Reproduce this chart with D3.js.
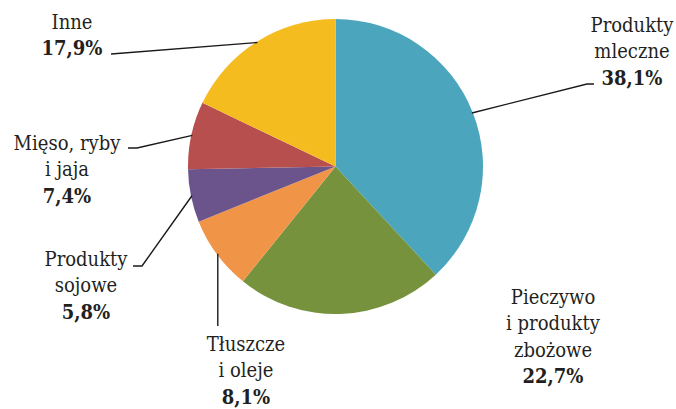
<!DOCTYPE html>
<html>
<head>
<meta charset="utf-8">
<script src="https://cdn.jsdelivr.net/npm/d3@7"></script>
<style>
  html, body { margin: 0; padding: 0; background: #fff; }
</style>
</head>
<body>
<svg id="chart" width="676" height="409"></svg>
<script>
// chart data
var categories = ["Produkty mleczne", "Pieczywo i produkty zbożowe", "Tłuszcze i oleje",
                  "Produkty sojowe", "Mięso, ryby i jaja", "Inne"];
var values = [38.1, 22.7, 8.1, 5.8, 7.4, 17.9];
var valueLabels = ["38,1%", "22,7%", "8,1%", "5,8%", "7,4%", "17,9%"];
var labelLines = [["Produkty", "mleczne"], ["Pieczywo", "i produkty", "zbożowe"], ["Tłuszcze", "i oleje"],
                  ["Produkty", "sojowe"], ["Mięso, ryby", "i jaja"], ["Inne"]];
var palette = ["#4ba6bd", "#76923c", "#f09548", "#6b548c", "#b64f4d", "#f5bc20"];

var svg = d3.select("#chart");
var cx = 335.5, cy = 166.5, radius = 147.5;
var fontSize = 20, lineGap = 26.3;
var serif = "'DejaVu Serif Condensed', 'DejaVu Serif', serif";

// where each label block sits: centre x, first baseline, and the leader elbow
var labelLayout = [
    { x: 632, y: 32, elbow: [[587, 84], [594, 84]] },
    { x: 553, y: 304, elbow: null },
    { x: 246, y: 351, elbow: [["v", 326]] },
    { x: 86, y: 266, elbow: [[142, 266], [133, 266]] },
    { x: 67, y: 150, elbow: [[137, 148], [128, 148]] },
    { x: 72, y: 29, elbow: [[111, 54]] }
];

var color = d3.scaleOrdinal().domain(categories).range(palette);

var pie = d3.pie().sort(null).value(function(d) { return d; });
var arcs = pie(values);

var arc = d3.arc().innerRadius(0).outerRadius(radius);
var edgeArc = d3.arc().innerRadius(radius - 1).outerRadius(radius - 1);

var g = svg.append("g").attr("transform", "translate(" + cx + "," + cy + ")");

g.selectAll(".slice")
    .data(arcs)
    .enter().append("path")
    .attr("class", "slice")
    .attr("d", arc)
    .attr("fill", function(d, i) { return color(categories[i]); });

// leader lines
arcs.forEach(function(a, i) {
    var lay = labelLayout[i];
    if (!lay.elbow) return;
    var c = edgeArc.centroid(a);
    var pts = [[cx + c[0], cy + c[1]]];
    lay.elbow.forEach(function(p) {
        if (p[0] === "v") pts.push([pts[pts.length - 1][0], p[1]]);
        else pts.push(p);
    });
    svg.append("path")
        .attr("d", d3.line()(pts))
        .attr("fill", "none")
        .attr("stroke", "#1a1a1a")
        .attr("stroke-width", 1.4);
});

// labels
labelLayout.forEach(function(lay, i) {
    var t = svg.append("text")
        .attr("text-anchor", "middle")
        .attr("font-family", serif)
        .attr("font-size", fontSize)
        .style("font-stretch", "condensed")
        .attr("fill", "#231f20");
    var lines = labelLines[i];
    lines.forEach(function(s, k) {
        t.append("tspan").attr("x", lay.x).attr("y", lay.y + k * lineGap).text(s);
    });
    t.append("tspan")
        .attr("x", lay.x)
        .attr("y", lay.y + lines.length * lineGap)
        .attr("font-weight", "bold")
        .text(valueLabels[i]);
});
</script>
</body>
</html>
